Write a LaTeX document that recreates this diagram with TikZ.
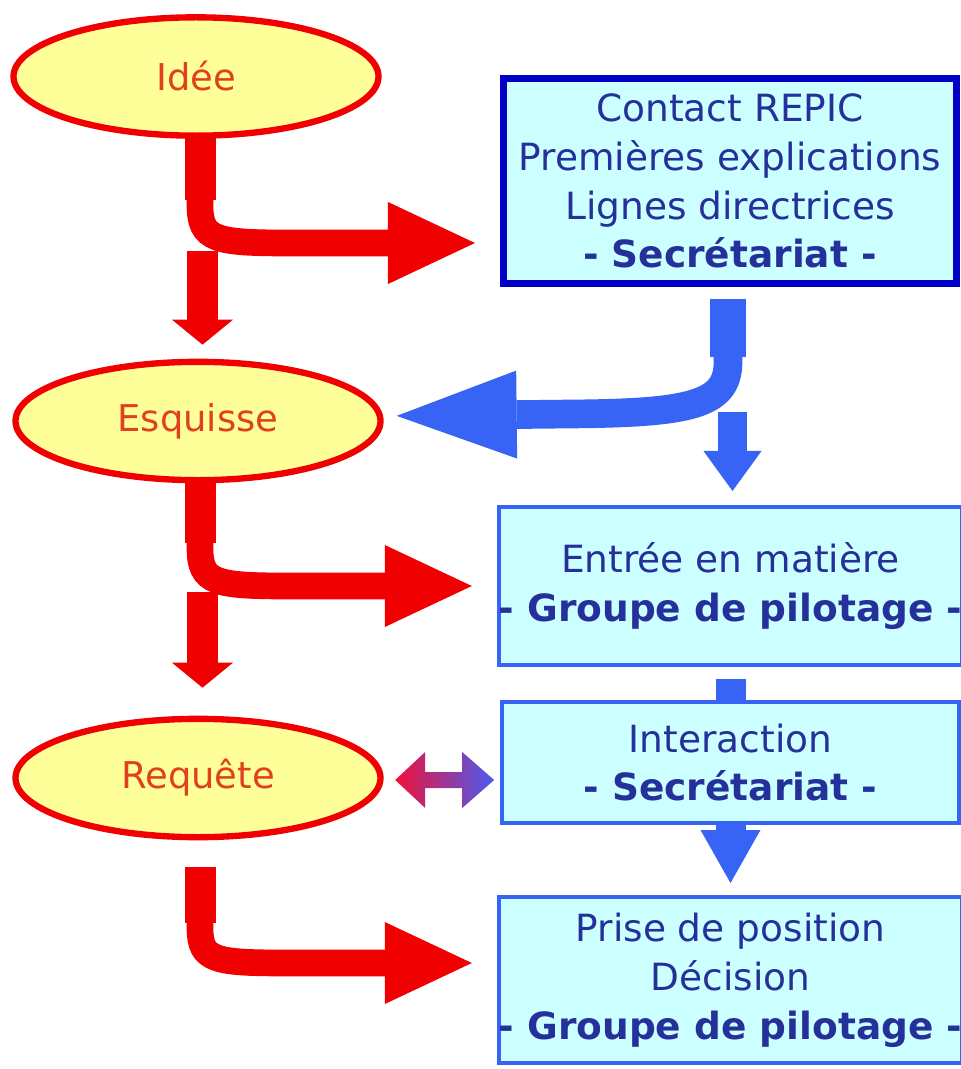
\documentclass[tikz,border=0pt]{standalone}
\usepackage{fontspec}
\setmainfont{DejaVu Sans}
\usetikzlibrary{shapes.geometric,arrows.meta,calc}
\definecolor{myred}{HTML}{F00000}
\definecolor{ellfill}{HTML}{FFFF99}
\definecolor{elltext}{HTML}{E0401E}
\definecolor{boxfill}{HTML}{CCFFFF}
\definecolor{boxtext}{HTML}{25309A}
\definecolor{darkborder}{HTML}{0000C8}
\definecolor{myblue}{HTML}{3764F5}
\definecolor{gradred}{HTML}{F0103A}
\definecolor{gradblue}{HTML}{4A5CF0}
\begin{document}
\begin{tikzpicture}[x=0.03cm,y=-0.03cm,
  ell/.style={ellipse, draw=myred, line width=0.19cm, fill=ellfill,
    minimum width=10.95cm, minimum height=3.55cm, inner sep=0pt,
    text=elltext, font=\fontsize{31.5pt}{38pt}\selectfont},
  stagebox/.style={rectangle, draw=myblue, line width=0.12cm, fill=boxfill,
    text=boxtext, align=center, inner sep=0pt, minimum width=13.7cm,
    font=\fontsize{32pt}{41.7pt}\selectfont},
  redstub/.style={draw=myred, line width=0.93cm},
  redcurve/.style={draw=myred, line width=0.8cm,
    -{Triangle[length=2.61cm,width=2.46cm,line width=0pt]}},
  redstraight/.style={draw=myred, line width=0.93cm,
    -{Triangle[length=0.75cm,width=1.83cm,line width=0pt]}},
  bluestub/.style={draw=myblue, line width=1.08cm},
  bluecurve/.style={draw=myblue, line width=0.86cm,
    -{Triangle[length=3.6cm,width=2.64cm,line width=0pt]}},
  bluedownA/.style={draw=myblue, line width=0.87cm,
    -{Triangle[length=1.2cm,width=1.74cm,line width=0pt]}},
  bluelink/.style={draw=myblue, line width=0.9cm},
  bluedownB/.style={draw=myblue, line width=0.9cm,
    -{Triangle[length=1.59cm,width=1.8cm,line width=0pt]}},
]
\useasboundingbox (0,0) rectangle (961,1069);

% ellipses
\node[ell] (idee) at (196,76.5) {Idée};
\node[ell] (esquisse) at (198,421) {Esquisse};
\node[ell] (requete) at (198,778) {Requête};

% boxes
\node[stagebox, draw=darkborder, line width=0.2cm, minimum width=13.6cm, minimum height=6.15cm]
  (box1) at (730,181) {Contact REPIC\\Premières explications\\Lignes directrices\\\textbf{- Secrétariat -}};
\node[stagebox, minimum height=4.74cm] (box2) at (730.5,586)
  {Entrée en matière\\\textbf{- Groupe de pilotage -}};
\node[stagebox, minimum height=3.63cm] (box3) at (730.5,762.5)
  {Interaction\\\textbf{- Secrétariat -}};
\node[stagebox, minimum height=4.98cm] (box4) at (730.5,980)
  {Prise de position\\Décision\\\textbf{- Groupe de pilotage -}};

% red curved arrows
\draw[redstub] ($(idee.south)+(4,-3)$) -- (200,200);
\draw[redcurve, shorten >=0.75cm] (200,190) -- (200,205)
  .. controls (200,240) and (215,243) .. (290,243) -- ($(box1.west)+(0,62)$);
\draw[redstub] ($(esquisse.south)+(2,-3)$) -- (200,543);
\draw[redcurve, shorten >=0.75cm] (200,533) -- (200,548)
  .. controls (200,583) and (215,586) .. (290,586) -- (box2.west);
\draw[redstub] ($(requete.south)+(2,27)$) -- (200,923);
\draw[redcurve, shorten >=0.75cm] (200,913) -- (200,928)
  .. controls (200,961) and (215,963) .. (290,963) -- ($(box4.west)+(0,-17)$);

% red straight arrows
\draw[redstraight, shorten <=3.36cm, shorten >=0.42cm]
  ($(idee.south)+(6.5,0)$) -- ($(esquisse.north)+(4.5,0)$);
\draw[redstraight, shorten <=3.27cm, shorten >=0.84cm]
  ($(esquisse.south)+(4.5,0)$) -- ($(requete.north)+(4.5,0)$);

% blue curved arrow back to Esquisse
\draw[bluestub] ($(box1.south)+(-2,12)$) -- (728,357);
\draw[bluecurve, shorten >=0.39cm] (728,345) -- (728,362)
  .. controls (728,405) and (690,413) .. (570,414) -- ($(esquisse.east)+(0,-5)$);

% blue straight arrows
\draw[bluedownA, shorten <=3.74cm, shorten >=0.42cm]
  ($(box1.south)+(2.5,0)$) -- ($(box2.north)+(2,0)$);
\draw[bluelink, shorten <=0.36cm] (box2.south) -- (box3.north);
\draw[bluedownB, shorten >=0.36cm] (box3.south) -- (box4.north);

% double arrow between Requête and Interaction
\begin{scope}[shift={(requete.east)}]
  \shade[left color=gradred, right color=gradblue]
    (11.5,2) -- (41.5,-26) -- (41.5,-6) -- (78.5,-6) -- (78.5,-26) -- (110.5,2)
    -- (78.5,30) -- (78.5,10) -- (41.5,10) -- (41.5,30) -- cycle;
\end{scope}
\end{tikzpicture}
\end{document}
